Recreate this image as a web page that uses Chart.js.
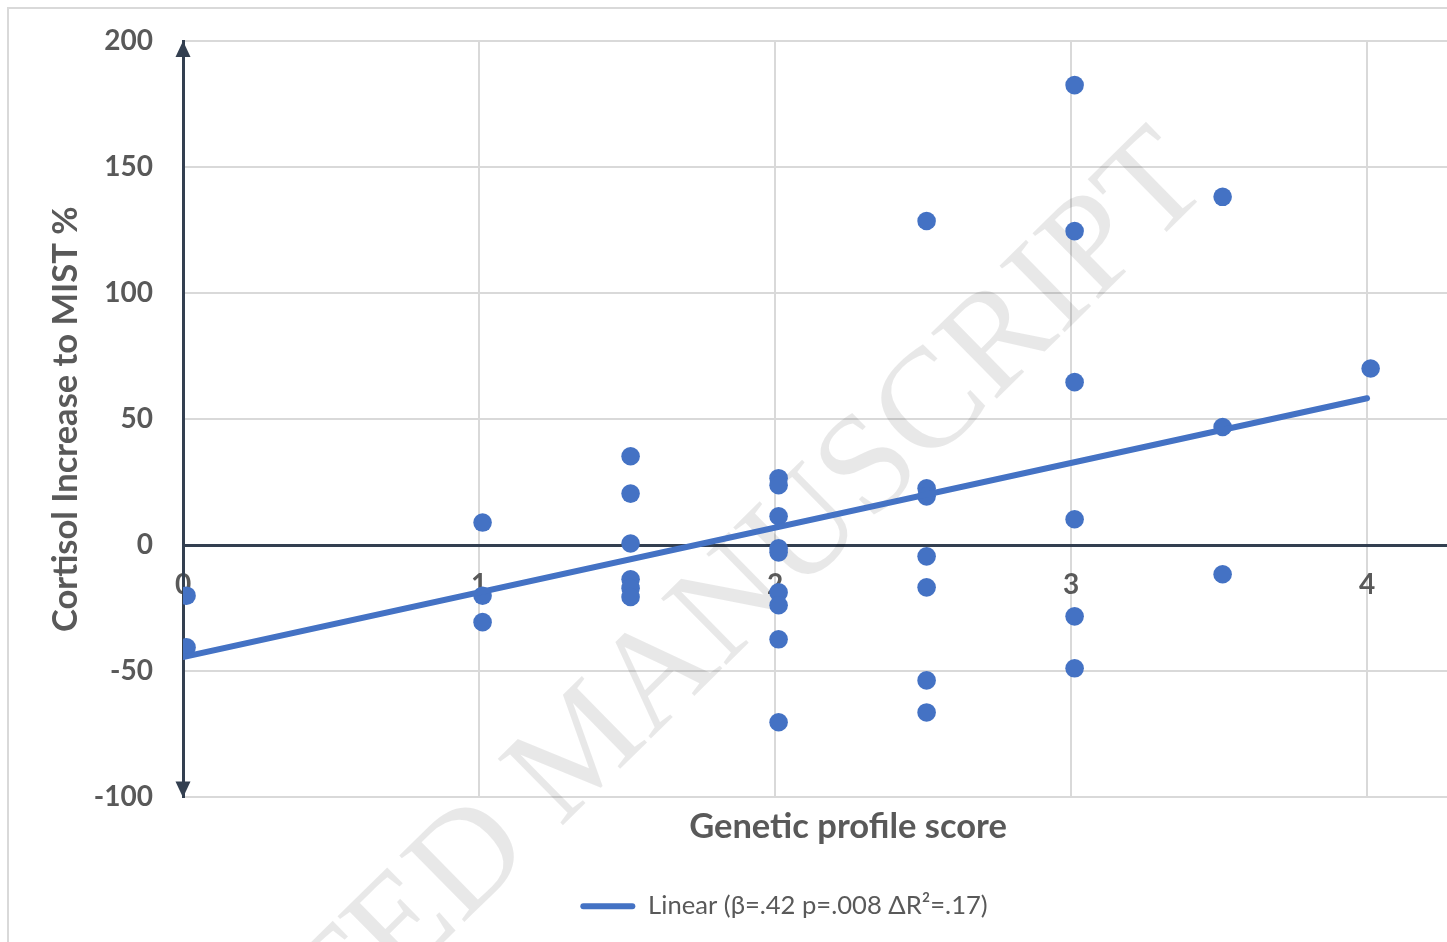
<!DOCTYPE html>
<html><head><meta charset="utf-8">
<script src="https://cdn.jsdelivr.net/npm/chart.js@4.4.1/dist/chart.umd.min.js"></script>
<style>html,body{margin:0;padding:0;background:#fff;}</style>
</head><body>
<canvas id="c" width="1447" height="942"></canvas>
<script>
// ---- data ----
const xTickValues = [0, 1, 2, 3, 4];
const yMin = -100, yMax = 200, yStep = 50;
const xMin = 0, xMax = 4.27;
const groupX = [0.012, 1.012, 1.512, 2.012, 2.512, 3.012, 3.512, 4.012];
const groupY = [
  [-20, -40.5],
  [9, -20, -30.5],
  [35.3, 20.5, 0.7, -13.5, -17, -20.5],
  [26.6, 23.8, 11.5, -1.2, -2.8, -18.7, -23.8, -37.3, -70.2],
  [128.6, 22.6, 19.4, -4.4, -16.7, -53.6, -66.3],
  [182.5, 124.6, 64.7, 10.3, -28.2, -48.8],
  [138.2, 46.9, -11.5],
  [70.1]
];
const trendX = [0, 4];
const trendY = [-44.3, 58.3];
const legendLabel = 'Linear (β=.42 p=.008 ΔR²=.17)';
const xTitle = 'Genetic profile score';
const yTitle = 'Cortisol Increase to MIST %';
const watermarkText = ['ACCEPTED ', 'MANUSCRIPT'];

// ---- build ----
const scatterPts = [];
groupX.forEach((gx, i) => groupY[i].forEach(v => scatterPts.push({x: gx, y: v})));
const trendPts = trendX.map((v, i) => ({x: v, y: trendY[i]}));

const BLUE = '#4472C4', DARK = '#333F50', GRID = '#D9D9D9', TXT = '#595959';
const FONT = 'Lato';

const framePlugin = {
  id: 'frame',
  beforeDraw(chart) {
    const c = chart.ctx;
    c.save();
    c.fillStyle = '#fff';
    c.fillRect(0, 0, chart.width, chart.height);
    c.strokeStyle = GRID; c.lineWidth = 2;
    c.strokeRect(8, 8, chart.width + 20, chart.height + 20);
    c.restore();
  },
  afterLayout(chart) {
    const ca = chart.chartArea;
    const x2 = chart.scales.x2;
    x2.left = ca.left + 66;
    chart.legend.left = ca.left - 62;
  },
  beforeDatasetsDraw(chart) {
    const c = chart.ctx;
    c.save();
    c.translate(560, 828);
    c.rotate(-44.5 * Math.PI / 180);
    c.font = '142px "Liberation Serif"';
    c.fillStyle = 'rgba(0,0,0,0.09)';
    c.textBaseline = 'alphabetic';
    c.textAlign = 'left';
    c.fillText(watermarkText[1], 0, 0);
    c.textAlign = 'right';
    c.fillText(watermarkText[0], 0, 0);
    c.restore();
  },
  afterDraw(chart) {
    const c = chart.ctx;
    const x0 = chart.scales.x.getPixelForValue(0);
    const yt = chart.scales.y.getPixelForValue(yMax);
    const yb = chart.scales.y.getPixelForValue(yMin);
    c.save();
    c.fillStyle = DARK;
    c.beginPath();
    c.moveTo(x0, yt); c.lineTo(x0 - 7.5, yt + 16); c.lineTo(x0 + 7.5, yt + 16); c.closePath(); c.fill();
    c.beginPath();
    c.moveTo(x0, yb); c.lineTo(x0 - 7.5, yb - 16); c.lineTo(x0 + 7.5, yb - 16); c.closePath(); c.fill();
    c.restore();
  }
};

new Chart(document.getElementById('c'), {
  type: 'scatter',
  data: {
    datasets: [
      {
        label: 'Cortisol',
        data: scatterPts,
        backgroundColor: BLUE,
        borderColor: BLUE,
        borderWidth: 0,
        pointRadius: 9.3,
        pointHoverRadius: 9.3,
        order: 2
      },
      {
        type: 'line',
        label: legendLabel,
        data: trendPts,
        borderColor: BLUE,
        backgroundColor: BLUE,
        borderWidth: 6,
        borderCapStyle: 'round',
        pointRadius: 0,
        fill: false,
        order: 1
      }
    ]
  },
  options: {
    responsive: false,
    animation: false,
    devicePixelRatio: 1,
    events: [],
    layout: { autoPadding: false, padding: { top: 41, right: 0, left: 0, bottom: 13 } },
    plugins: {
      tooltip: { enabled: false },
      legend: {
        display: true,
        position: 'bottom',
        labels: {
          font: { family: FONT, size: 25.6, weight: 'normal' },
          color: TXT,
          boxWidth: 55,
          boxHeight: 6,
          padding: 10,
          generateLabels(chart) {
            const items = Chart.defaults.plugins.legend.labels.generateLabels(chart);
            return items.filter(i => i.datasetIndex === 1).map(i => Object.assign({}, i, {
              lineWidth: 0, fillStyle: BLUE, borderRadius: 3, fontColor: TXT
            }));
          }
        }
      }
    },
    scales: {
      x: {
        type: 'linear',
        min: xMin, max: xMax,
        position: { y: 0 },
        afterBuildTicks(s) { s.ticks = xTickValues.map(v => ({ value: v })); },
        ticks: { font: { family: FONT, size: 28, weight: 'bold' }, color: TXT, padding: 23, maxRotation: 0 },
        grid: {
          color: ctx => (ctx.tick && ctx.tick.value === 0) ? 'rgba(0,0,0,0)' : GRID,
          lineWidth: 2,
          drawTicks: false
        },
        border: { display: true, color: DARK, width: 3 }
      },
      x2: {
        type: 'linear',
        position: 'bottom',
        min: xMin, max: xMax,
        ticks: { display: false },
        grid: { display: false },
        border: { display: false },
        title: {
          display: true, text: xTitle, color: TXT,
          font: { family: FONT, size: 34.5, weight: 'bold' },
          padding: { top: 0, bottom: 36 }
        },
        afterFit(s) { s.height = 86; }
      },
      y: {
        type: 'linear',
        min: yMin, max: yMax,
        ticks: { stepSize: yStep, font: { family: FONT, size: 28, weight: 'bold' }, color: TXT, padding: 6 },
        grid: {
          color: ctx => (ctx.tick && ctx.tick.value === 0) ? 'rgba(0,0,0,0)' : GRID,
          lineWidth: 2,
          drawTicks: true,
          tickLength: 24,
          tickColor: 'rgba(0,0,0,0)'
        },
        border: { display: true, color: DARK, width: 3 },
        title: {
          display: true, text: yTitle, color: TXT,
          font: { family: FONT, size: 34.5, weight: 'bold' },
          padding: { top: 45, bottom: 0 }
        },
        afterFit(s) { s.width = 183; }
      }
    }
  },
  plugins: [framePlugin]
});
</script>
</body></html>
